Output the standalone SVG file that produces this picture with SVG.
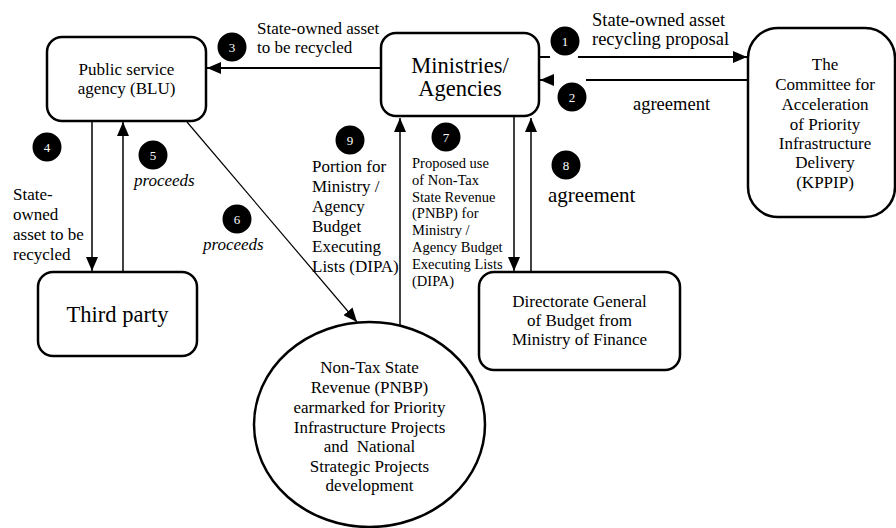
<svg xmlns="http://www.w3.org/2000/svg" width="896" height="528" viewBox="0 0 896 528" font-family="'Liberation Serif', 'DejaVu Serif', serif">
<style>
text{font-family:'Liberation Serif','DejaVu Serif',serif;fill:#000}
.box{fill:#fff;stroke:#000;stroke-width:2.5}
.t17{font-size:17px}
.t18{font-size:18.5px}
.big{font-size:22.5px}
.mid{text-anchor:middle}
.it{font-style:italic}
.small{font-size:14.5px}
.num{font-size:13px;fill:#fff;text-anchor:middle}
.badge{fill:#000;stroke:#fff;stroke-width:3}
.ln{fill:none;stroke:#000;stroke-width:1.5}
.lnw{fill:none;stroke:#000;stroke-width:2}
.lnt{fill:none;stroke:#000;stroke-width:1.2}
</style>
<defs>
<marker id="ah" markerUnits="userSpaceOnUse" markerWidth="14" markerHeight="12" refX="14" refY="6" orient="auto" viewBox="0 0 14 12">
<path d="M0,0 L14,6 L0,12 z" fill="#000"/>
</marker>
</defs>

<g id="connectors">
<path class="lnw" d="M539,57 H550 M578,57 H747" marker-end="url(#ah)"/>
<path class="lnw" d="M748,80 H586 M553,80 H540" marker-end="url(#ah)"/>
<path class="lnw" d="M381,68 H207" marker-end="url(#ah)"/>
<path class="ln" d="M92,121 V271" marker-end="url(#ah)"/>
<path class="ln" d="M123,272 V122" marker-end="url(#ah)"/>
<path class="lnt" d="M187,122 L357,322" marker-end="url(#ah)"/>
<path class="ln" d="M514,117 V271" marker-end="url(#ah)"/>
<path class="ln" d="M531,272 V118" marker-end="url(#ah)"/>
<path class="ln" d="M400,325 V118" marker-end="url(#ah)"/>
</g>

<g id="blu">
<rect class="box" x="47" y="37" width="159" height="84" rx="15"/>
<text class="t17 mid" x="126.5" y="75">Public service</text>
<text class="t17 mid" x="126.5" y="94">agency (BLU)</text>
</g>

<g id="ministries">
<rect class="box" x="381" y="33" width="158" height="83" rx="15"/>
<text class="big mid" x="460" y="73">Ministries/</text>
<text class="big mid" x="460" y="96">Agencies</text>
</g>

<g id="kppip">
<rect class="box" x="748" y="28" width="147" height="189" rx="30"/>
<text class="t17 mid" x="825" y="70">The</text>
<text class="t17 mid" x="825" y="90">Committee for</text>
<text class="t17 mid" x="825" y="110">Acceleration</text>
<text class="t17 mid" x="825" y="130">of Priority</text>
<text class="t17 mid" x="825" y="149">Infrastructure</text>
<text class="t17 mid" x="825" y="168">Delivery</text>
<text class="t17 mid" x="825" y="188">(KPPIP)</text>
</g>

<g id="third-party">
<rect class="box" x="38" y="272" width="159" height="84" rx="15"/>
<text class="big mid" x="117.5" y="322">Third party</text>
</g>

<g id="dg-budget">
<rect class="box" x="479" y="272" width="201" height="98" rx="15"/>
<text class="t17 mid" x="579.5" y="307">Directorate General</text>
<text class="t17 mid" x="579.5" y="326">of Budget from</text>
<text class="t17 mid" x="579.5" y="345">Ministry of Finance</text>
</g>

<g id="pnbp">
<ellipse class="box" cx="369.5" cy="424.5" rx="115.5" ry="102.5"/>
<text class="t17 mid" x="369.5" y="373">Non-Tax State</text>
<text class="t17 mid" x="369.5" y="393">Revenue (PNBP)</text>
<text class="t17 mid" x="369.5" y="413">earmarked for Priority</text>
<text class="t17 mid" x="369.5" y="433">Infrastructure Projects</text>
<text class="t17 mid" x="369.5" y="452" xml:space="preserve">and  National</text>
<text class="t17 mid" x="369.5" y="472">Strategic Projects</text>
<text class="t17 mid" x="369.5" y="491">development</text>
</g>

<g id="step1">
<circle class="badge" cx="565" cy="41" r="16"/>
<text class="num" x="565" y="46">1</text>
<text class="t18" x="592" y="26">State-owned asset</text>
<text class="t18" x="592" y="45">recycling proposal</text>
</g>
<g id="step2">
<circle class="badge" cx="572" cy="97" r="16"/>
<text class="num" x="572" y="102">2</text>
<text class="t18" x="633" y="110">agreement</text>
</g>
<g id="step3">
<circle class="badge" cx="232" cy="47" r="16"/>
<text class="num" x="232" y="52">3</text>
<text class="t17" x="257" y="34">State-owned asset</text>
<text class="t17" x="257" y="53">to be recycled</text>
</g>
<g id="step4">
<circle class="badge" cx="47" cy="147" r="16"/>
<text class="num" x="47" y="152">4</text>
<text class="t17" x="13" y="200">State-</text>
<text class="t17" x="13" y="220">owned</text>
<text class="t17" x="13" y="240">asset to be</text>
<text class="t17" x="13" y="260">recycled</text>
</g>
<g id="step5">
<circle class="badge" cx="153" cy="155" r="16"/>
<text class="num" x="153" y="160">5</text>
<text class="t17 it" x="134" y="186">proceeds</text>
</g>
<g id="step6">
<circle class="badge" cx="237" cy="219" r="16"/>
<text class="num" x="237" y="224">6</text>
<text class="t17 it" x="203" y="250">proceeds</text>
</g>
<g id="step7">
<circle class="badge" cx="446" cy="137" r="16"/>
<text class="num" x="446" y="142">7</text>
<text class="small" x="412" y="168">Proposed use</text>
<text class="small" x="412" y="185">of Non-Tax</text>
<text class="small" x="412" y="202">State Revenue</text>
<text class="small" x="412" y="218">(PNBP) for</text>
<text class="small" x="412" y="235">Ministry /</text>
<text class="small" x="412" y="252">Agency Budget</text>
<text class="small" x="412" y="269">Executing Lists</text>
<text class="small" x="412" y="286">(DIPA)</text>
</g>
<g id="step8">
<circle class="badge" cx="566" cy="165" r="16"/>
<text class="num" x="566" y="170">8</text>
<text x="548" y="202" style="font-size:21px">agreement</text>
</g>
<g id="step9">
<circle class="badge" cx="350" cy="140" r="16"/>
<text class="num" x="350" y="145">9</text>
<text class="t17" x="312" y="172">Portion for</text>
<text class="t17" x="312" y="192">Ministry /</text>
<text class="t17" x="312" y="212">Agency</text>
<text class="t17" x="312" y="232">Budget</text>
<text class="t17" x="312" y="252">Executing</text>
<text class="t17" x="312" y="272">Lists (DIPA)</text>
</g>
</svg>
